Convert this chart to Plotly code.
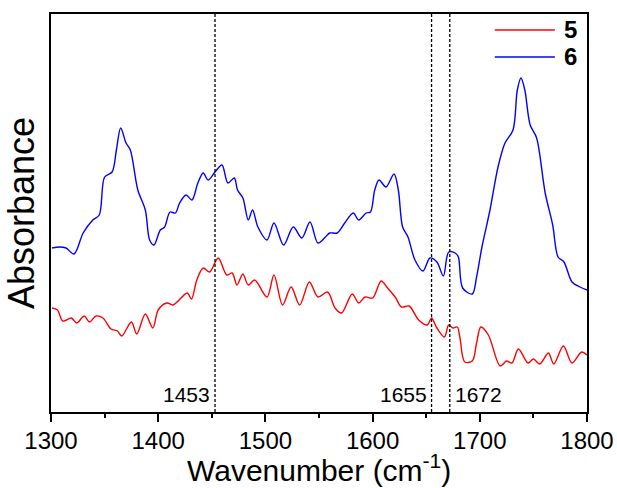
import plotly.graph_objects as go

# FTIR absorbance spectra (arbitrary units, offset for clarity)
wn_5 = [1301, 1306, 1311, 1319, 1324, 1331, 1336, 1342, 1348.5, 1356, 1362, 1366,
        1375, 1380, 1388, 1395, 1400, 1408, 1414, 1427, 1431, 1436, 1442, 1448,
        1456, 1464, 1469, 1473.5, 1479, 1484, 1490, 1501.5, 1508, 1516, 1524, 1532,
        1541, 1549, 1558, 1565, 1571, 1581, 1587, 1593, 1600, 1608, 1614, 1621,
        1627, 1634, 1643, 1651, 1655, 1660, 1667, 1671, 1675, 1679, 1681.5, 1686,
        1693, 1697, 1701, 1708, 1719, 1725, 1730, 1736, 1745, 1750, 1756, 1764,
        1769, 1778, 1786, 1795, 1800]
abs_5 = [1.04, 1.02, 0.91, 0.94, 0.89, 0.96, 0.90, 0.96, 0.94, 0.83, 0.81, 0.76,
         0.90, 0.78, 0.98, 0.84, 1.02, 1.09, 1.07, 1.19, 1.13, 1.32, 1.44, 1.40,
         1.54, 1.37, 1.39, 1.27, 1.38, 1.27, 1.32, 1.15, 1.37, 1.07, 1.25, 1.07,
         1.30, 1.15, 1.20, 1.04, 0.99, 1.18, 1.09, 1.15, 1.14, 1.31, 1.24, 1.15,
         1.05, 1.06, 0.92, 0.87, 0.94, 0.84, 0.75, 0.87, 0.84, 0.85, 0.74, 0.50,
         0.51, 0.69, 0.85, 0.77, 0.46, 0.51, 0.49, 0.63, 0.49, 0.53, 0.48, 0.59,
         0.48, 0.66, 0.49, 0.60, 0.57]

wn_6 = [1301, 1308, 1314, 1321.5, 1330, 1339, 1345, 1350, 1357, 1361, 1365, 1370,
        1374, 1381, 1388, 1392, 1396, 1402, 1406, 1411, 1416, 1420, 1426, 1431.5,
        1437, 1442, 1446.5, 1453, 1459.5, 1465, 1471, 1474, 1479, 1484, 1488, 1493,
        1501.5, 1508, 1517, 1526, 1534, 1541.6, 1549, 1556, 1560, 1567, 1574, 1582,
        1587, 1594, 1598, 1602, 1606, 1612.5, 1620, 1624, 1628, 1633, 1639.5, 1647,
        1653.5, 1660, 1666, 1671, 1677, 1680, 1684, 1693, 1697, 1702, 1709.5, 1717,
        1723.5, 1731, 1735, 1738.4, 1742, 1747, 1753, 1761, 1768, 1773, 1778.5,
        1786, 1793.4, 1800]
abs_6 = [1.64, 1.65, 1.64, 1.58, 1.79, 1.92, 1.97, 2.35, 2.40, 2.62, 2.84, 2.69,
         2.62, 2.22, 2.02, 1.72, 1.67, 1.82, 1.85, 2.00, 1.99, 2.09, 2.17, 2.12,
         2.29, 2.39, 2.32, 2.40, 2.47, 2.29, 2.34, 2.22, 2.14, 1.92, 2.02, 1.85,
         1.72, 1.89, 1.67, 1.85, 1.74, 1.90, 1.69, 1.75, 1.79, 1.79, 1.89, 1.99,
         1.92, 1.99, 2.00, 2.22, 2.32, 2.25, 2.38, 2.22, 1.85, 1.75, 1.52, 1.41,
         1.54, 1.50, 1.36, 1.60, 1.59, 1.55, 1.24, 1.18, 1.35, 1.65, 2.02, 2.45,
         2.69, 2.82, 3.22, 3.34, 3.22, 2.87, 2.74, 2.19, 1.87, 1.55, 1.50, 1.30,
         1.25, 1.22]

marker_wn = [1453, 1655, 1672]
marker_side = ["left", "left", "right"]

series = [("5", wn_5, abs_5, "#ff0000"), ("6", wn_6, abs_6, "#0000ff")]

fig = go.Figure()
for name, x, y, color in series:
    fig.add_trace(go.Scatter(
        x=x, y=y, mode="lines", name=name, showlegend=False,
        line=dict(color=color, width=1.4, shape="spline", smoothing=0.9),
    ))

# dashed reference lines with their wavenumber labels
for w, side in zip(marker_wn, marker_side):
    fig.add_shape(type="line", xref="x", yref="paper", x0=w, x1=w, y0=0, y1=1,
                  line=dict(color="black", width=1.3, dash="3px,2px"))
    fig.add_annotation(
        x=w, y=0.045, xref="x", yref="paper", text=str(w), showarrow=False,
        xanchor="right" if side == "left" else "left",
        xshift=-3 if side == "left" else 3, yanchor="middle",
        font=dict(family="Arial, Liberation Sans", size=21, color="black"),
    )

# legend drawn as sample lines and bold labels in the upper right corner
legend_y = [0.960, 0.892]
for (name, _, _, color), ly in zip(series, legend_y):
    fig.add_shape(type="line", xref="paper", yref="paper", x0=0.828, x1=0.940,
                  y0=ly, y1=ly, line=dict(color=color, width=1.5))
    fig.add_annotation(x=0.953, y=ly, xref="paper", yref="paper",
                       text=f"<b>{name}</b>", showarrow=False,
                       xanchor="left", yanchor="middle",
                       font=dict(family="Arial, Liberation Sans", size=24,
                                 color="black"))

# x-axis title placed just under the tick labels
fig.add_annotation(x=0.5, y=-0.194, xref="paper", yref="paper",
                   text="Wavenumber (cm<sup>-1</sup>)", showarrow=False,
                   xanchor="center", yanchor="bottom",
                   font=dict(family="Arial, Liberation Sans", size=30,
                             color="black"))

font_family = "Arial, Liberation Sans, sans-serif"
fig.update_layout(
    width=617, height=488,
    margin=dict(l=51, r=30, t=14, b=76),
    paper_bgcolor="white", plot_bgcolor="white",
    font=dict(family=font_family, color="black"),
    xaxis=dict(
        range=[1300, 1800], dtick=100, tick0=1300, automargin=False,
        ticks="outside", ticklen=8, tickwidth=1.5, tickcolor="black",
        minor=dict(dtick=50, ticks="outside", ticklen=4, tickwidth=1.5,
                   tickcolor="black"),
        tickfont=dict(size=24), ticklabelstandoff=-2,
        showgrid=False, zeroline=False,
        showline=True, linecolor="black", linewidth=1.5, mirror=True,
    ),
    yaxis=dict(
        range=[0, 3.98], showticklabels=False, ticks="", automargin=False,
        showgrid=False, zeroline=False,
        showline=True, linecolor="black", linewidth=1.5, mirror=True,
        title=dict(text="Absorbance", font=dict(size=36), standoff=4),
    ),
)

fig.write_html("out.html")
